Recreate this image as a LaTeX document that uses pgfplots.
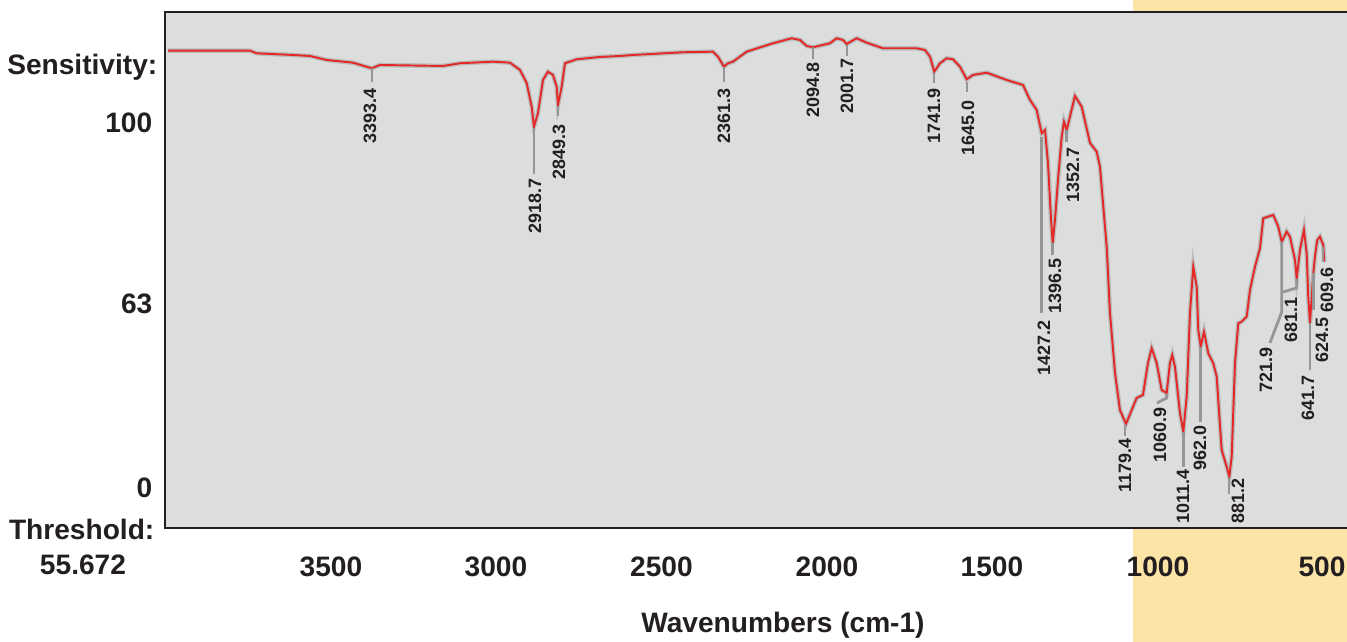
\documentclass[border=0pt]{standalone}
\usepackage{fontspec}
\setmainfont{Liberation Sans}
\usepackage{pgfplots}
\pgfplotsset{compat=1.18}
\pgfdeclarelayer{background}
\pgfsetlayers{background,main}

\definecolor{plotgray}{RGB}{220,221,221}
\definecolor{band}{RGB}{252,227,166}
\definecolor{spec}{RGB}{228,40,40}
\definecolor{ink}{RGB}{35,31,32}
\definecolor{lead}{RGB}{150,150,150}

% peak marker: line x, y from, y to, text x, text top y, label
\newcommand{\pk}[6]{%
  \draw[lead, line width=0.8pt] (axis cs:#1,#2) -- (axis cs:#1,#3);
  \node[plab] at (axis cs:#4,#5) {#6};}

\begin{document}
\begin{tikzpicture}[plab/.style={rotate=90, anchor=east, inner sep=0pt, text=ink,
    font=\fontsize{5.1}{6}\selectfont\bfseries}]
\begin{axis}[
  at={(0,0)}, anchor=south west,
  width=11.82cm, height=5.16cm, scale only axis,
  x dir=reverse, xmin=532.2, xmax=4001.5, ymin=0, ymax=516,
  axis background/.style={fill=plotgray},
  axis line style={draw=none},
  major tick length=0pt,
  xtick={3514.3,3030.0,2544.2,2058.5,1574.2,1087.0,605.6},
  xticklabels={3500,3000,2500,2000,1500,1000,500},
  ytick={395,214,30},
  yticklabels={100,63,0},
  xticklabel style={anchor=base, inner sep=0pt, yshift=-0.49cm, text=ink,
    font=\fontsize{8}{9.6}\selectfont\bfseries},
  yticklabel style={anchor=base east, inner sep=0pt, xshift=-0.12cm, text=ink,
    font=\fontsize{8}{9.6}\selectfont\bfseries},
  clip=false,
]
\addplot[gray, opacity=0.35, line width=1.3pt] coordinates {
(3992.7,477.3) (3752.0,477.3) (3732.4,474.7) (3625.8,473) (3575.9,472) (3526.9,468)
(3449.7,465.3) (3394.8,459.7) (3370.5,463) (3185.5,462) (3135.7,464.7) (3038.8,466.3)
(2988.9,465.3) (2959.5,458) (2939.9,445) (2925.2,421.3) (2918.5,401.3) (2906.7,415)
(2892.0,448) (2877.4,456.3) (2862.7,453) (2851.9,441.3) (2848.0,423) (2837.1,441.3)
(2827.5,464.7) (2793.1,468.7) (2724.7,471) (2666.0,472) (2627.9,473) (2481.1,475.7)
(2393.1,476.3) (2378.4,471.3) (2360.8,461.3) (2349.1,464.7) (2334.4,466.3) (2294.2,476.3)
(2217.0,484.7) (2162.1,489.7) (2137.7,488) (2118.0,482) (2099.6,480.7) (2049.7,484.7)
(2030.1,489.7) (2011.6,488) (2000.6,484) (1971.3,489.7) (1941.9,485.3) (1894.1,479.7)
(1795.2,479.7) (1770.8,478) (1756.1,471.3) (1743.5,456.3) (1726.8,464.7) (1707.1,469.7)
(1688.6,468.7) (1668.1,461.3) (1648.4,448.7) (1629.9,453) (1589.7,455.3) (1531.1,448)
(1483.2,443) (1462.6,428) (1443.0,418) (1428.3,394.7) (1418.6,398) (1409.8,365)
(1401.9,315) (1396.0,285) (1389.2,308) (1380.4,348) (1369.5,391.3) (1362.8,406.3)
(1355.0,398) (1345.3,411.3) (1330.6,432) (1310.9,421.3) (1286.5,385) (1266.9,376.3)
(1257.2,361.3) (1237.5,281.3) (1227.8,215) (1213.1,155) (1198.5,118) (1180.9,104)
(1164.1,118) (1149.5,130) (1131.0,133) (1116.3,165) (1105.4,179.7) (1090.8,165)
(1076.1,138) (1061.5,135) (1051.7,165) (1045.0,173) (1037.0,161) (1022.4,115)
(1012.6,96.3) (1002.7,131.3) (993.0,215) (983.3,261.3) (973.3,241.3) (968.6,198)
(961.6,181.3) (951.9,196.3) (939.3,174.7) (924.6,164.7) (914.6,151.3) (900.0,78)
(885.3,61.3) (877.6,51.3) (870.6,71.3) (860.9,164.7) (851.3,204.7) (841.3,206.3)
(826.6,211.3) (816.9,238) (802.2,261.3) (787.6,279.7) (777.9,309.7) (748.5,313)
(733.8,301.3) (723.8,286.3) (709.1,296.3) (699.5,291.3) (684.8,268) (679.8,249.7)
(670.2,278) (658.5,298) (650.5,274.7) (645.9,231.3) (640.8,204.7) (631.1,254.7)
(626.2,271.3) (619.4,288) (611.5,291.3) (601.8,283) (598.8,266.3)
};
\addplot[spec, line width=0.55pt] coordinates {
(3992.7,477.3) (3752.0,477.3) (3732.4,474.7) (3625.8,473) (3575.9,472) (3526.9,468)
(3449.7,465.3) (3394.8,459.7) (3370.5,463) (3185.5,462) (3135.7,464.7) (3038.8,466.3)
(2988.9,465.3) (2959.5,458) (2939.9,445) (2925.2,421.3) (2918.5,401.3) (2906.7,415)
(2892.0,448) (2877.4,456.3) (2862.7,453) (2851.9,441.3) (2848.0,423) (2837.1,441.3)
(2827.5,464.7) (2793.1,468.7) (2724.7,471) (2666.0,472) (2627.9,473) (2481.1,475.7)
(2393.1,476.3) (2378.4,471.3) (2360.8,461.3) (2349.1,464.7) (2334.4,466.3) (2294.2,476.3)
(2217.0,484.7) (2162.1,489.7) (2137.7,488) (2118.0,482) (2099.6,480.7) (2049.7,484.7)
(2030.1,489.7) (2011.6,488) (2000.6,484) (1971.3,489.7) (1941.9,485.3) (1894.1,479.7)
(1795.2,479.7) (1770.8,478) (1756.1,471.3) (1743.5,456.3) (1726.8,464.7) (1707.1,469.7)
(1688.6,468.7) (1668.1,461.3) (1648.4,448.7) (1629.9,453) (1589.7,455.3) (1531.1,448)
(1483.2,443) (1462.6,428) (1443.0,418) (1428.3,394.7) (1418.6,398) (1409.8,365)
(1401.9,315) (1396.0,285) (1389.2,308) (1380.4,348) (1369.5,391.3) (1362.8,406.3)
(1355.0,398) (1345.3,411.3) (1330.6,432) (1310.9,421.3) (1286.5,385) (1266.9,376.3)
(1257.2,361.3) (1237.5,281.3) (1227.8,215) (1213.1,155) (1198.5,118) (1180.9,104)
(1164.1,118) (1149.5,130) (1131.0,133) (1116.3,165) (1105.4,179.7) (1090.8,165)
(1076.1,138) (1061.5,135) (1051.7,165) (1045.0,173) (1037.0,161) (1022.4,115)
(1012.6,96.3) (1002.7,131.3) (993.0,215) (983.3,261.3) (973.3,241.3) (968.6,198)
(961.6,181.3) (951.9,196.3) (939.3,174.7) (924.6,164.7) (914.6,151.3) (900.0,78)
(885.3,61.3) (877.6,51.3) (870.6,71.3) (860.9,164.7) (851.3,204.7) (841.3,206.3)
(826.6,211.3) (816.9,238) (802.2,261.3) (787.6,279.7) (777.9,309.7) (748.5,313)
(733.8,301.3) (723.8,286.3) (709.1,296.3) (699.5,291.3) (684.8,268) (679.8,249.7)
(670.2,278) (658.5,298) (650.5,274.7) (645.9,231.3) (640.8,204.7) (631.1,254.7)
(626.2,271.3) (619.4,288) (611.5,291.3) (601.8,283) (598.8,266.3)
};
% peak labels
\pk{3393.9}{460}{446}{3399.8}{440}{3393.4}
\pk{2918.5}{400}{354}{2915.6}{350}{2918.7}
\pk{2848.0}{422}{412}{2845.1}{404}{2849.3}
\pk{2360.8}{461}{446}{2360.8}{440}{2361.3}
\pk{2099.6}{481}{469}{2099.6}{466}{2094.8}
\pk{1999.8}{483}{472}{1999.8}{470}{2001.7}
\pk{1744.4}{455}{445}{1744.4}{440}{1741.9}
\pk{1647.6}{446}{436}{1644.6}{428}{1645.0}
\pk{1428.3}{391}{215}{1421.6}{208}{1427.2}
\pk{1396.0}{285}{273}{1389.3}{270}{1396.5}
\pk{1355.0}{398}{386}{1336.4}{381}{1352.7}
\pk{1183.8}{104}{92}{1183.8}{90}{1179.4}
\pk{1012.6}{96}{61}{1013.5}{59}{1011.4}
\pk{961.6}{181}{106}{963.7}{103}{962.0}
\pk{878.6}{50}{34}{852.1}{50}{881.2}
\pk{640.8}{205}{158}{646.7}{153}{641.7}
\pk{631.1}{255}{218}{605.6}{211}{624.5}
\pk{602.6}{281}{266}{590.9}{261}{609.6}
\draw[lead, line width=0.8pt] (axis cs:1061.5,134) -- (axis cs:1061.5,130) -- (axis cs:1089.9,125);
\node[plab] at (axis cs:1081.1,121) {1060.9};
\draw[lead, line width=0.8pt] (axis cs:723.8,286) -- (axis cs:723.8,216) -- (axis cs:758.2,185);
\node[plab] at (axis cs:770.0,181) {721.9};
\draw[lead, line width=0.8pt] (axis cs:679.8,249) -- (axis cs:679.8,240) -- (axis cs:720.1,236);
\node[plab] at (axis cs:696.6,231) {681.1};
\end{axis}
% frame (left, top, bottom)
\draw[ink, line width=0.6pt] (11.82,5.16) -- (0,5.16) -- (0,0) -- (11.82,0);
% side texts
\begin{scope}[every node/.style={inner sep=0pt, text=ink, font=\fontsize{8}{9.6}\selectfont\bfseries}]
\node[anchor=base east] at (-0.07,4.53) {Sensitivity:};
\node[anchor=base east] at (-0.10,-0.12) {Threshold:};
\node[anchor=base] at (-0.82,-0.47) {55.672};
\node[anchor=base] at (6.18,-1.05) {Wavenumbers (cm-1)};
\end{scope}
\begin{pgfonlayer}{background}
\fill[band] (9.68,-1.14) rectangle (11.82,5.28);
\end{pgfonlayer}
\pgfresetboundingbox
\useasboundingbox (-1.65,-1.14) rectangle (11.82,5.28);
\end{tikzpicture}
\end{document}
